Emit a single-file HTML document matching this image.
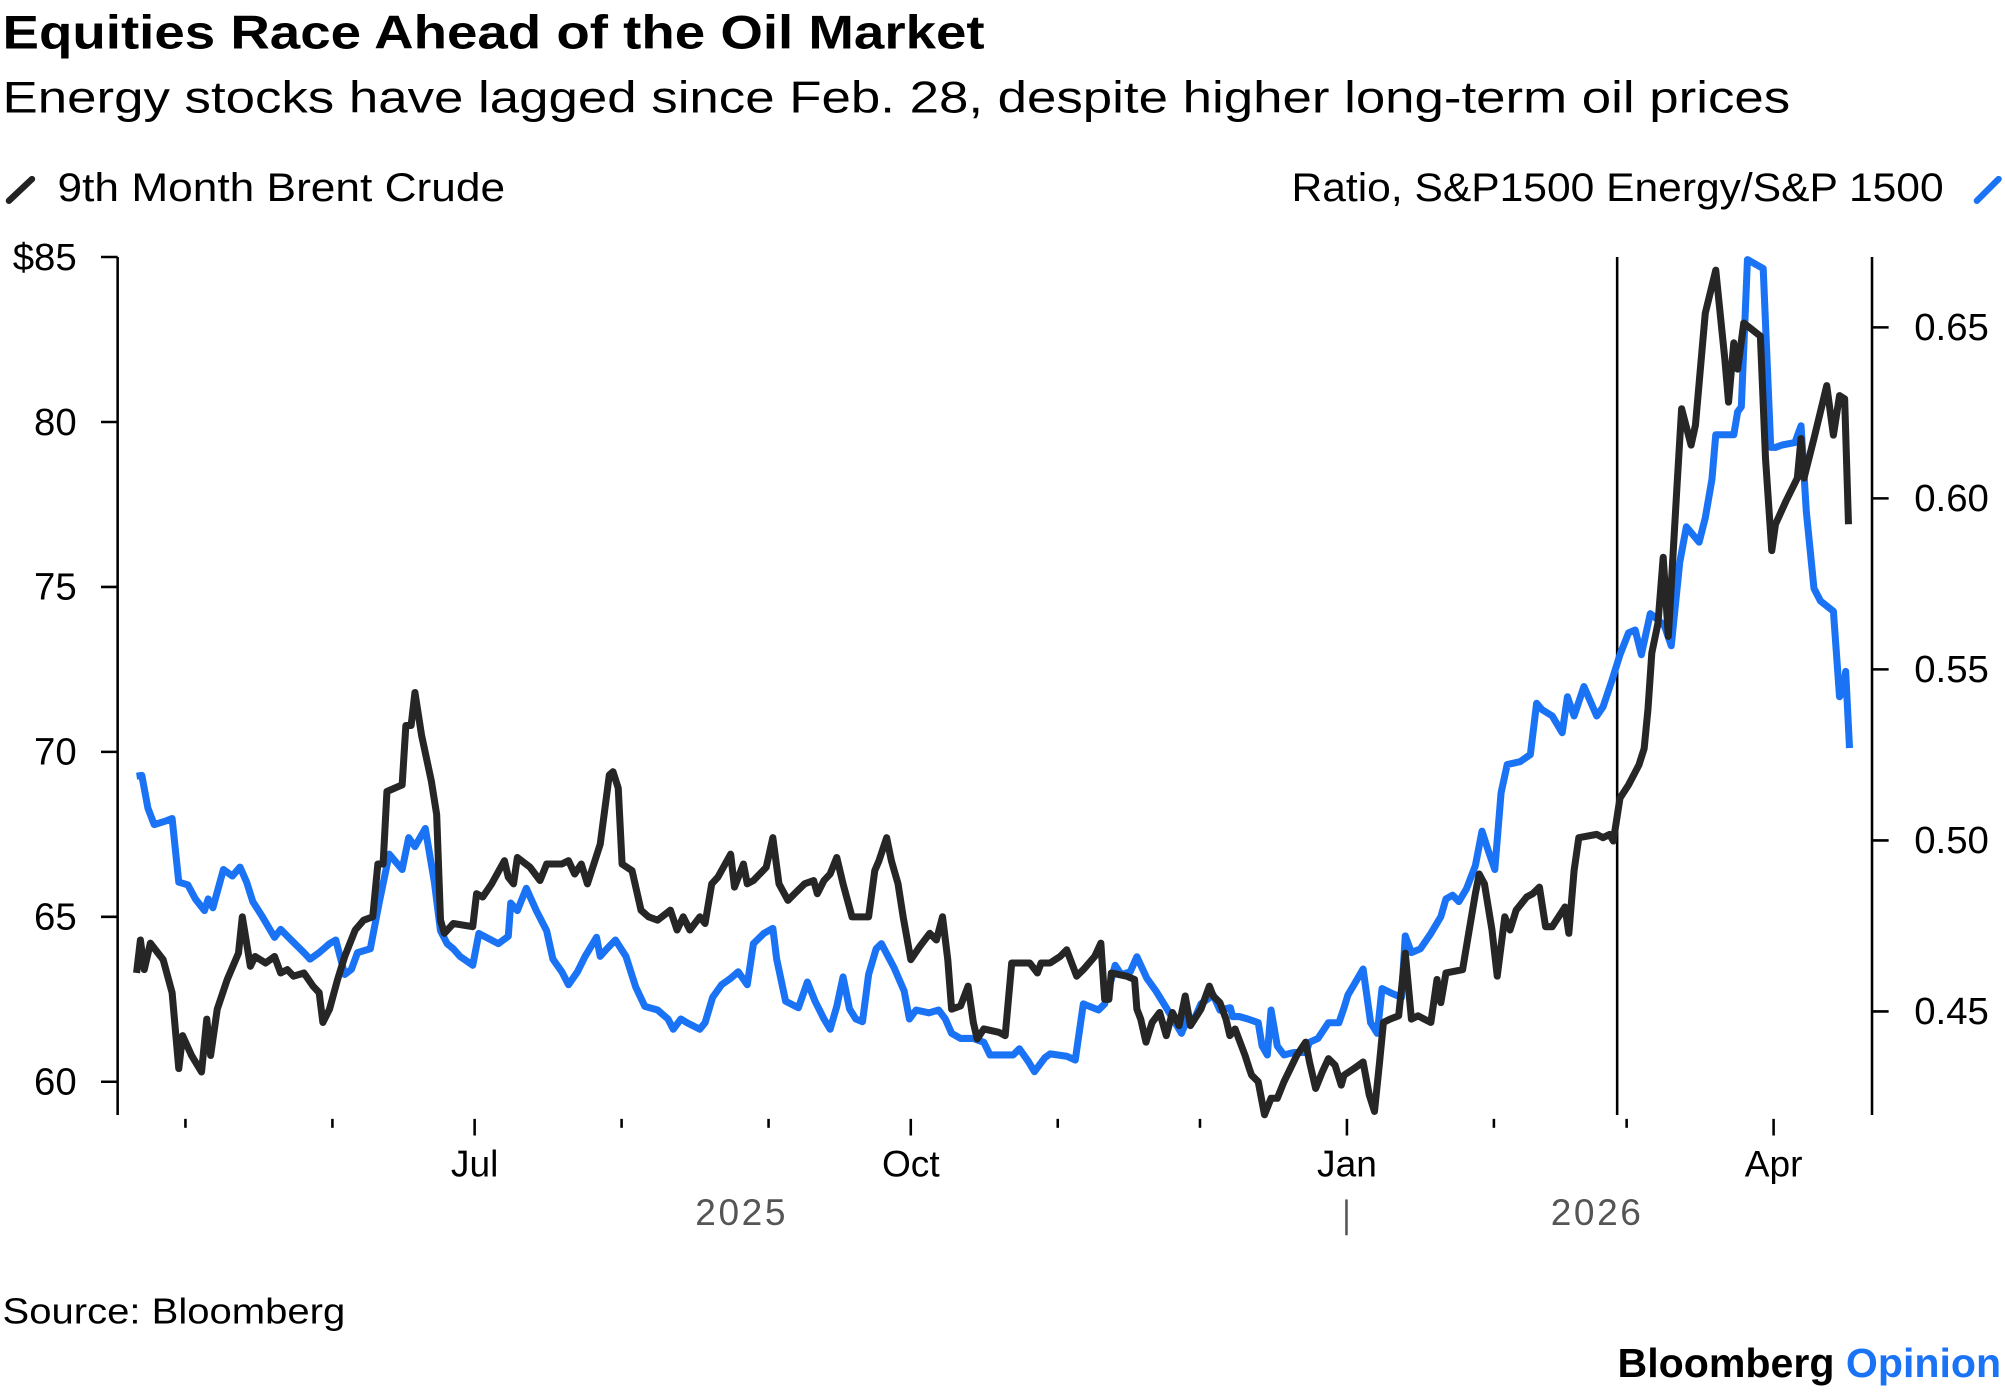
<!DOCTYPE html>
<html><head><meta charset="utf-8"><title>Equities Race Ahead of the Oil Market</title>
<style>
html,body{margin:0;padding:0;background:#fff;}
svg{display:block;font-family:"Liberation Sans",Arial,sans-serif;}
</style></head>
<body>
<svg id="chart" width="2005" height="1392" viewBox="0 0 1568 1088.6" xmlns="http://www.w3.org/2000/svg">
<text x="2" y="38" font-size="37" font-weight="bold" fill="#000" textLength="768" lengthAdjust="spacingAndGlyphs">Equities Race Ahead of the Oil Market</text>
<text x="2" y="88" font-size="35" fill="#000" textLength="1398" lengthAdjust="spacingAndGlyphs">Energy stocks have lagged since Feb. 28, despite higher long-term oil prices</text>
<g>
<line x1="7" y1="157" x2="25" y2="140" stroke="#222" stroke-width="5" stroke-linecap="round"/>
<text x="45" y="157" font-size="31" fill="#000" textLength="350" lengthAdjust="spacingAndGlyphs">9th Month Brent Crude</text>
</g>
<g>
<text x="1520" y="157" font-size="31" fill="#000" text-anchor="end" textLength="510" lengthAdjust="spacingAndGlyphs">Ratio, S&amp;P1500 Energy/S&amp;P 1500</text>
<line x1="1546" y1="157" x2="1563" y2="140" stroke="#1a73f5" stroke-width="5" stroke-linecap="round"/>
</g>
<g id="axes"></g>
<g id="series"></g>
<text x="580" y="958" font-size="29" fill="#555" text-anchor="middle" letter-spacing="2">2025</text>
<line x1="1053" y1="938" x2="1053" y2="966" stroke="#555" stroke-width="2"/>
<text x="1249" y="958" font-size="29" fill="#555" text-anchor="middle" letter-spacing="2">2026</text>
<text x="2" y="1035" font-size="28" fill="#000" textLength="268" lengthAdjust="spacingAndGlyphs">Source: Bloomberg</text>
<text x="1565" y="1077" font-size="32" font-weight="bold" text-anchor="end" textLength="300" lengthAdjust="spacingAndGlyphs"><tspan fill="#000">Bloomberg </tspan><tspan fill="#1a73f5">Opinion</tspan></text>
</svg>
<script>
// Day offsets since 2025-04-01
const brentDays = [19.7,20.5,21.3,22.6,25.3,27.2,28.6,29.4,31.3,33.4,34.5,35.3,36.7,38.8,41.2,42.0,43.7,44.7,46.9,48.8,50.1,51.5,52.8,55.0,56.9,58.2,59.0,60.4,62.1,63.6,65.8,67.6,69.5,70.6,71.7,72.5,75.7,76.5,77.6,78.4,79.8,81.9,83.0,83.8,84.6,86.5,90.6,91.4,92.7,94.6,97.3,98.1,99.2,100.0,102.7,104.8,106.2,109.4,110.8,112.1,113.5,114.8,117.5,119.4,120.2,121.3,122.1,124.2,126.1,127.7,129.6,132.3,133.7,135.0,136.4,138.5,139.6,141.0,142.3,145.0,145.8,147.7,148.5,149.8,152.5,153.9,155.2,157.1,158.5,160.6,162.5,163.3,164.7,166.0,167.4,168.7,170.6,174.1,175.4,176.3,177.9,178.9,180.3,181.4,183.0,184.9,187.0,188.4,189.7,190.8,191.6,193.5,195.1,196.2,197.0,198.4,201.6,202.9,204.3,208.1,209.7,210.5,212.4,214.5,215.9,217.2,218.0,219.4,221.8,223.1,223.9,224.8,225.3,228.5,230.2,230.7,231.5,232.6,233.9,235.5,236.9,238.2,239.6,240.9,242.0,244.2,246.0,246.8,248.2,249.5,250.3,251.4,253.5,254.4,254.9,256.3,257.6,259.0,260.3,261.7,264.4,266.3,267.1,268.4,269.8,271.1,272.5,273.8,274.4,276.5,278.4,279.7,280.8,281.9,282.7,284.1,285.9,287.3,288.6,290.0,291.3,292.7,294.0,294.8,295.9,299.4,300.8,302.1,302.9,304.0,305.6,306.7,308.3,309.4,310.7,312.9,314.2,315.6,316.9,318.3,321.0,321.8,322.9,323.9,327.7,329.0,330.4,331.2,332.6,334.4,336.6,337.7,338.5,339.3,340.6,341.7,342.8,344.6,345.6,347.6,348.5,350.6,352.8,354.7,355.5,356.6,357.4,358.7,362.2,363.3,364.6,365.4,367.6,370.0,370.8,371.4,373.5,376.2,377.6,378.9,380.0,380.8];
const brentValues = [63.3,64.3,63.4,64.2,63.7,62.7,60.4,61.4,60.8,60.3,61.9,60.8,62.2,63.1,63.9,65.0,63.5,63.8,63.6,63.8,63.3,63.4,63.2,63.3,62.9,62.7,61.8,62.2,63.1,63.8,64.6,64.9,65.0,66.6,66.6,68.8,69.0,70.8,70.8,71.8,70.5,69.1,68.1,64.9,64.5,64.8,64.7,65.7,65.6,66.0,66.7,66.2,66.0,66.8,66.5,66.1,66.6,66.6,66.7,66.3,66.6,66.0,67.2,69.3,69.4,68.9,66.6,66.4,65.2,65.0,64.9,65.2,64.6,65.0,64.6,65.0,64.8,66.0,66.2,66.9,65.9,66.6,66.0,66.1,66.5,67.4,66.0,65.5,65.7,66.0,66.1,65.7,66.1,66.3,66.8,66.0,65.0,65.0,66.4,66.7,67.4,66.7,66.0,65.0,63.7,64.1,64.5,64.3,65.0,63.7,62.2,62.3,62.9,61.8,61.3,61.6,61.5,61.4,63.6,63.6,63.3,63.6,63.6,63.8,64.0,63.5,63.2,63.4,63.8,64.2,62.5,62.5,63.3,63.2,63.1,62.2,61.9,61.2,61.8,62.1,61.4,62.1,61.7,62.6,61.7,62.2,62.9,62.6,62.4,61.9,61.4,61.6,60.8,60.4,60.2,60.0,59.0,59.5,59.5,60.0,60.8,61.2,60.6,59.8,60.3,60.7,60.5,59.9,60.2,60.4,60.6,59.6,59.1,60.6,61.8,61.9,62.0,63.9,61.9,62.0,61.9,61.8,63.1,62.4,63.3,63.4,64.6,65.7,66.3,66.0,64.6,63.2,65.0,64.6,65.2,65.6,65.7,65.9,64.7,64.7,65.3,64.5,66.4,67.4,67.5,67.4,67.5,67.3,68.6,69.0,69.6,70.1,71.3,73.0,73.9,75.9,73.5,78.0,80.4,79.3,79.9,83.3,84.6,81.9,80.6,82.4,81.6,83.0,82.6,78.9,76.1,76.9,77.6,78.3,79.5,78.3,79.5,81.1,79.6,80.8,80.7,76.9];
const ratioDays = [19.7,20.8,22.1,23.4,25.9,27.2,28.6,30.5,32.1,34.0,34.8,35.8,38.0,39.9,41.5,42.9,44.2,46.1,48.8,50.1,52.3,55.0,56.3,58.2,60.4,61.7,63.6,65.0,66.3,69.0,70.9,73.0,75.7,77.1,78.4,80.6,82.5,83.8,85.2,86.5,87.9,90.6,91.9,96.0,98.1,98.6,100.0,101.9,104.0,106.2,107.5,109.4,110.8,112.7,114.3,116.7,117.5,118.9,120.7,122.9,125.0,126.9,129.6,131.8,132.9,134.5,135.8,138.5,139.6,141.2,143.1,145.0,146.6,148.5,149.8,152.0,153.9,154.7,156.6,159.3,161.2,162.8,164.7,166.0,167.4,168.7,170.1,171.4,172.8,174.1,175.7,176.8,179.5,181.6,182.7,184.1,186.8,188.9,190.3,191.6,193.5,196.2,198.4,199.7,204.6,205.9,207.8,209.1,211.3,212.4,215.9,217.7,219.4,220.7,222.6,223.9,226.1,227.4,229.3,230.7,232.8,234.7,236.9,240.1,241.5,242.8,244.2,246.8,248.2,250.4,250.9,252.3,254.1,256.3,257.1,258.2,259.0,260.3,261.7,263.8,266.3,267.1,268.9,271.1,273.3,274.4,275.2,276.5,278.4,280.0,281.4,282.4,284.6,286.5,287.3,288.6,290.5,292.7,294.8,295.9,297.3,298.6,300.2,302.1,303.5,304.8,306.2,307.5,308.8,311.5,313.7,315.0,316.1,318.3,320.4,321.5,322.9,325.0,327.7,329.0,330.9,332.6,334.4,335.8,337.1,339.0,340.6,342.0,343.4,345.2,346.6,349.3,350.6,352.0,352.8,354.7,356.6,357.4,358.2,359.5,362.8,364.4,365.4,366.8,369.5,370.8,371.9,373.5,374.9,377.6,378.9,379.7,380.2,381.0];
const ratioValues = [0.5188,0.519,0.5094,0.5046,0.5057,0.5064,0.4878,0.4870,0.4829,0.4795,0.4829,0.4803,0.4915,0.4896,0.4922,0.4878,0.4821,0.4780,0.4717,0.4740,0.4709,0.4672,0.4653,0.4672,0.4698,0.4709,0.4608,0.4623,0.4672,0.4683,0.4821,0.4960,0.4915,0.5008,0.4982,0.5035,0.4878,0.4736,0.4698,0.4683,0.4661,0.4635,0.4728,0.4698,0.4720,0.4817,0.4795,0.4860,0.4795,0.4736,0.4653,0.4616,0.4578,0.4616,0.4661,0.4717,0.4661,0.4683,0.4709,0.4661,0.4571,0.4515,0.4504,0.4478,0.4448,0.4478,0.4467,0.4448,0.4467,0.4541,0.4578,0.4597,0.4616,0.4578,0.4698,0.4728,0.4743,0.4653,0.4530,0.4511,0.4586,0.4530,0.4478,0.4448,0.4515,0.4601,0.4507,0.4478,0.4470,0.4608,0.4683,0.4698,0.4627,0.4560,0.4478,0.4504,0.4496,0.4504,0.4478,0.4436,0.4421,0.4421,0.4410,0.4373,0.4373,0.4391,0.4354,0.4324,0.4365,0.4376,0.4369,0.4358,0.4522,0.4515,0.4504,0.4522,0.4635,0.4608,0.4616,0.4660,0.4597,0.4560,0.4511,0.4436,0.4485,0.4478,0.4522,0.4548,0.4504,0.4511,0.4485,0.4485,0.4478,0.4467,0.4399,0.4373,0.4504,0.4399,0.4373,0.4380,0.4380,0.4410,0.4421,0.4467,0.4467,0.4511,0.4548,0.4578,0.4624,0.4467,0.4436,0.4567,0.4552,0.4541,0.4721,0.4672,0.4683,0.4728,0.4777,0.4829,0.4840,0.4821,0.4858,0.4926,0.5027,0.4971,0.4915,0.5139,0.5222,0.5230,0.5251,0.5401,0.5383,0.5364,0.5315,0.5420,0.5364,0.5450,0.5364,0.5390,0.5468,0.5543,0.5607,0.5615,0.5543,0.5663,0.5645,0.5626,0.5569,0.5812,0.5917,0.5872,0.5943,0.6055,0.6186,0.6186,0.6186,0.6253,0.6268,0.6698,0.6672,0.6149,0.6149,0.6156,0.6163,0.6212,0.5962,0.5737,0.5700,0.5670,0.5420,0.5439,0.5494,0.5270];
const leftTicks = [85,80,75,70,65,60];
const leftTickLabels = ["$85","80","75","70","65","60"];
const rightTicks = [0.65,0.60,0.55,0.50,0.45];
const rightTickLabels = ["0.65","0.60","0.55","0.50","0.45"];
const monthTickDays = [30,61,91,122,153,183,214,244,275,306,334,365];
const monthLabels = ["","","Jul","","","Oct","","","Jan","","","Apr"];
const eventDay = 332; // Feb 28, 2026

const NS = "http://www.w3.org/2000/svg";
const PLOT_TOP = 201, PLOT_BOTTOM = 872, LEFT_X = 92, RIGHT_X = 1464;
function xScale(d){ return 33.8 + d * 3.7075; }
function yLeft(v){ return 201 + (85 - v) * 25.8; }
function yRight(v){ return 256 + (0.65 - v) * 2675; }
function mk(tag, attrs, parent){ const e = document.createElementNS(NS, tag); for (const k in attrs) e.setAttribute(k, attrs[k]); parent.appendChild(e); return e; }

const axes = document.getElementById("axes");
const la = mk("line", {x1:LEFT_X, y1:PLOT_TOP, x2:LEFT_X, y2:PLOT_BOTTOM, stroke:"#000", "stroke-width":2}, axes);


const ra = mk("line", {x1:RIGHT_X, y1:PLOT_TOP, x2:RIGHT_X, y2:PLOT_BOTTOM, stroke:"#000", "stroke-width":2}, axes);


leftTicks.forEach((v, i) => {
  const y = yLeft(v);
  const t = mk("line", {x1:LEFT_X-13, y1:y, x2:LEFT_X, y2:y, stroke:"#000", "stroke-width":2}, axes);
  
  
  const l = mk("text", {x:LEFT_X-32, y:y+10, "font-size":30, "text-anchor":"end", fill:"#000"}, axes);
  l.textContent = leftTickLabels[i];
  
  
});
rightTicks.forEach((v, i) => {
  const y = yRight(v);
  const t = mk("line", {x1:RIGHT_X, y1:y, x2:RIGHT_X+13, y2:y, stroke:"#000", "stroke-width":2}, axes);
  
  
  const l = mk("text", {x:1497, y:y+10, "font-size":30, fill:"#000"}, axes);
  l.textContent = rightTickLabels[i];
  
  
});
monthTickDays.forEach((d, i) => {
  const x = xScale(d);
  const long = monthLabels[i] !== "";
  const t = mk("line", {x1:x, y1:875, x2:x, y2: long ? 888 : 882, stroke:"#000", "stroke-width":2}, axes);
  
  
  if (long) {
    const l = mk("text", {x:x, y:920, "font-size":29, "text-anchor":"middle", fill:"#000"}, axes);
    l.textContent = monthLabels[i];
    
    
  }
});
const ev = mk("line", {x1:xScale(eventDay), y1:PLOT_TOP, x2:xScale(eventDay), y2:PLOT_BOTTOM, stroke:"#000", "stroke-width":2}, axes);



const series = document.getElementById("series");
const bp = mk("polyline", {points: ratioDays.map((d,i)=>xScale(d).toFixed(1)+","+yRight(ratioValues[i]).toFixed(1)).join(" "), fill:"none", stroke:"#1a73f5", "stroke-width":5.5, "stroke-linejoin":"round"}, series);


const kp = mk("polyline", {points: brentDays.map((d,i)=>xScale(d).toFixed(1)+","+yLeft(brentValues[i]).toFixed(1)).join(" "), fill:"none", stroke:"#262626", "stroke-width":5.5, "stroke-linejoin":"round"}, series);


</script>
</body></html>
